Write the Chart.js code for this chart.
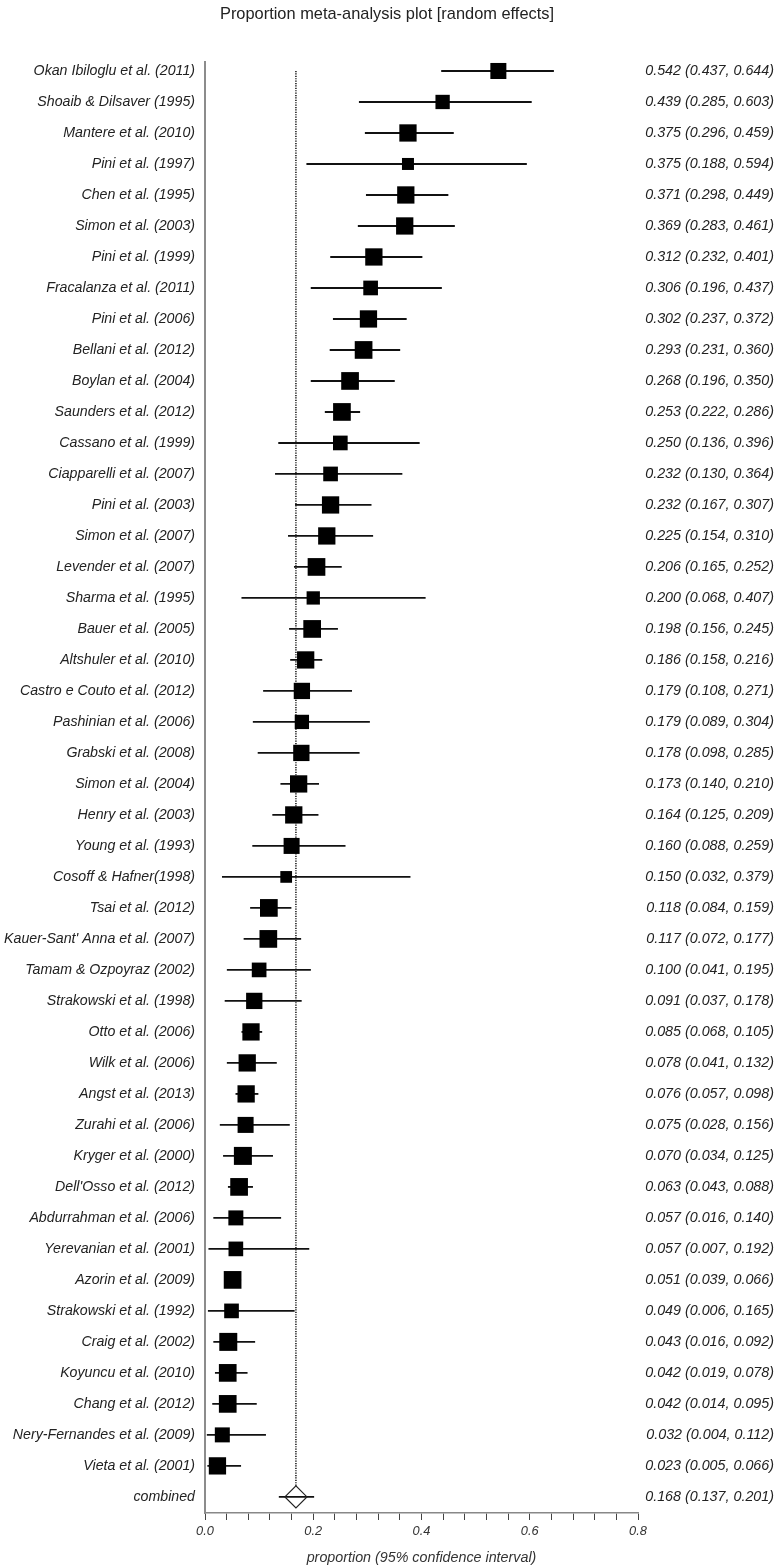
<!DOCTYPE html>
<html>
<head>
    <title>Proportion meta-analysis plot</title>
    <script src="https://cdn.jsdelivr.net/npm/chart.js"></script>
    <style>
        body {
            margin: 0;
            padding: 0;
            background: #fff;
        }
        canvas {
            display: block;
        }
    </style>
</head>
<body>

<canvas id="forestPlot" width="777" height="1567"></canvas>

<script>
// study data (top to bottom)
const studies = [
    'Okan Ibiloglu et al. (2011)', 'Shoaib & Dilsaver (1995)', 'Mantere et al. (2010)', 'Pini et al. (1997)',
    'Chen et al. (1995)', 'Simon et al. (2003)', 'Pini et al. (1999)', 'Fracalanza et al. (2011)',
    'Pini et al. (2006)', 'Bellani et al. (2012)', 'Boylan et al. (2004)', 'Saunders et al. (2012)',
    'Cassano et al. (1999)', 'Ciapparelli et al. (2007)', 'Pini et al. (2003)', 'Simon et al. (2007)',
    'Levender et al. (2007)', 'Sharma et al. (1995)', 'Bauer et al. (2005)', 'Altshuler et al. (2010)',
    'Castro e Couto et al. (2012)', 'Pashinian et al. (2006)', 'Grabski et al. (2008)', 'Simon et al. (2004)',
    'Henry et al. (2003)', 'Young et al. (1993)', 'Cosoff & Hafner(1998)', 'Tsai et al. (2012)',
    "Kauer-Sant' Anna et al. (2007)", 'Tamam & Ozpoyraz (2002)', 'Strakowski et al. (1998)', 'Otto et al. (2006)',
    'Wilk et al. (2006)', 'Angst et al. (2013)', 'Zurahi et al. (2006)', 'Kryger et al. (2000)',
    "Dell'Osso et al. (2012)", 'Abdurrahman et al. (2006)', 'Yerevanian et al. (2001)', 'Azorin et al. (2009)',
    'Strakowski et al. (1992)', 'Craig et al. (2002)', 'Koyuncu et al. (2010)', 'Chang et al. (2012)',
    'Nery-Fernandes et al. (2009)', 'Vieta et al. (2001)'
];
const estimates = [
    0.542, 0.439, 0.375, 0.375, 0.371, 0.369, 0.312, 0.306, 0.302, 0.293, 0.268, 0.253,
    0.250, 0.232, 0.232, 0.225, 0.206, 0.200, 0.198, 0.186, 0.179, 0.179, 0.178, 0.173,
    0.164, 0.160, 0.150, 0.118, 0.117, 0.100, 0.091, 0.085, 0.078, 0.076, 0.075, 0.070,
    0.063, 0.057, 0.057, 0.051, 0.049, 0.043, 0.042, 0.042, 0.032, 0.023
];
const lowerCI = [
    0.437, 0.285, 0.296, 0.188, 0.298, 0.283, 0.232, 0.196, 0.237, 0.231, 0.196, 0.222,
    0.136, 0.130, 0.167, 0.154, 0.165, 0.068, 0.156, 0.158, 0.108, 0.089, 0.098, 0.140,
    0.125, 0.088, 0.032, 0.084, 0.072, 0.041, 0.037, 0.068, 0.041, 0.057, 0.028, 0.034,
    0.043, 0.016, 0.007, 0.039, 0.006, 0.016, 0.019, 0.014, 0.004, 0.005
];
const upperCI = [
    0.644, 0.603, 0.459, 0.594, 0.449, 0.461, 0.401, 0.437, 0.372, 0.360, 0.350, 0.286,
    0.396, 0.364, 0.307, 0.310, 0.252, 0.407, 0.245, 0.216, 0.271, 0.304, 0.285, 0.210,
    0.209, 0.259, 0.379, 0.159, 0.177, 0.195, 0.178, 0.105, 0.132, 0.098, 0.156, 0.125,
    0.088, 0.140, 0.192, 0.066, 0.165, 0.092, 0.078, 0.095, 0.112, 0.066
];
// approximate random-effects weights (%), estimated from the square sizes
const weights = [
    1.94, 1.55, 2.26, 1.09, 2.26, 2.26, 2.26, 1.63, 2.26, 2.37, 2.37, 2.37,
    1.63, 1.63, 2.26, 2.26, 2.37, 1.34, 2.37, 2.26, 2.01, 1.55, 2.01, 2.26,
    2.26, 1.94, 1.04, 2.37, 2.37, 1.63, 2.01, 2.26, 2.26, 2.26, 1.94, 2.45,
    2.37, 1.70, 1.63, 2.37, 1.63, 2.45, 2.37, 2.37, 1.70, 2.26
];

// pooled estimate
const combinedLabel = 'combined';
const pooledEstimate = 0.168;
const pooledLower = 0.137;
const pooledUpper = 0.201;

// x axis
const xTickValues = [0, 0.04, 0.08, 0.12, 0.16, 0.2, 0.24, 0.28, 0.32, 0.36, 0.4,
    0.44, 0.48, 0.52, 0.56, 0.6, 0.64, 0.68, 0.72, 0.76, 0.8];
const xTickLabels = ['0.0', '0.2', '0.4', '0.6', '0.8'];

const fontFamily = '"Liberation Sans", Arial, sans-serif';
Chart.defaults.font.family = fontFamily;
Chart.defaults.color = '#222';

const combinedRow = studies.length;
const rowLabels = studies.concat([combinedLabel]);
const fmt = v => v.toFixed(3);
const ciLabels = estimates.map((e, i) => `${fmt(e)} (${fmt(lowerCI[i])}, ${fmt(upperCI[i])})`)
    .concat([`${fmt(pooledEstimate)} (${fmt(pooledLower)}, ${fmt(pooledUpper)})`]);

const rowTicks = scale => { scale.ticks = rowLabels.map((_, i) => ({ value: i })); };
const yMin = -0.29, yMax = 46.52;

const ciData = rowLabels.map((_, i) => ({
    y: i,
    x: i < combinedRow ? [lowerCI[i], upperCI[i]] : [pooledLower, pooledUpper]
}));

const ctx = document.getElementById('forestPlot').getContext('2d');
const forestChart = new Chart(ctx, {
    type: 'scatter',
    data: {
        datasets: [
            {
                // confidence intervals as thin floating bars
                type: 'bar',
                indexAxis: 'y',
                data: ciData,
                backgroundColor: '#111',
                borderWidth: 0,
                barThickness: 1.2,
                grouped: false,
                order: 3
            },
            {
                // dotted reference line at the pooled estimate
                type: 'scatter',
                showLine: true,
                data: [{ x: pooledEstimate, y: 0 }, { x: pooledEstimate, y: combinedRow - 0.355 }],
                borderColor: '#000',
                borderWidth: 1.4,
                borderDash: [1.2, 1.2],
                pointRadius: 0,
                order: 4
            },
            {
                // study estimates, square area by weight
                type: 'scatter',
                data: estimates.map((e, i) => ({ x: e, y: i })),
                pointStyle: 'rect',
                pointRadius: weights.map(w => 8.13 * Math.sqrt(w)),
                backgroundColor: '#000',
                borderColor: '#000',
                borderWidth: 0,
                order: 1
            },
            {
                // pooled diamond
                type: 'scatter',
                data: [{ x: pooledEstimate, y: combinedRow }],
                pointStyle: 'rectRot',
                pointRadius: 11,
                backgroundColor: 'rgba(255,255,255,0)',
                borderColor: '#222',
                borderWidth: 1.2,
                order: 0
            }
        ]
    },
    options: {
        responsive: false,
        animation: false,
        events: [],
        layout: {
            padding: { left: 0, right: 3, top: 0, bottom: 0 }
        },
        plugins: {
            legend: { display: false },
            tooltip: { enabled: false },
            title: {
                display: true,
                text: 'Proportion meta-analysis plot [random effects]',
                font: { size: 16.4, weight: 'normal' },
                color: '#222',
                padding: { top: 5, bottom: 37.3 }
            }
        },
        scales: {
            x: {
                type: 'linear',
                position: 'bottom',
                min: 0,
                max: 0.8,
                offset: false,
                afterBuildTicks: scale => { scale.ticks = xTickValues.map(v => ({ value: v })); },
                afterFit: scale => { scale.height = 54; },
                ticks: {
                    autoSkip: false,
                    maxRotation: 0,
                    padding: 4,
                    color: '#333',
                    font: { size: 12.8, style: 'italic' },
                    callback: v => {
                        const lab = xTickLabels.find(l => Math.abs(parseFloat(l) - v) < 1e-6);
                        return lab === undefined ? '' : lab;
                    }
                },
                grid: {
                    offset: false,
                    drawOnChartArea: false,
                    drawTicks: true,
                    tickLength: 7,
                    color: '#444',
                    lineWidth: 1
                },
                border: { display: true, color: '#888', width: 1.5 },
                title: {
                    display: true,
                    text: 'proportion (95% confidence interval)',
                    color: '#333',
                    font: { size: 14.3, style: 'italic' },
                    padding: { top: 0, bottom: 0 }
                }
            },
            y: {
                type: 'linear',
                position: 'left',
                reverse: true,
                offset: false,
                min: yMin,
                max: yMax,
                afterBuildTicks: rowTicks,
                afterFit: scale => { scale.width = 205; },
                ticks: {
                    autoSkip: false,
                    padding: 10,
                    color: '#222',
                    font: { size: 14.2, style: 'italic' },
                    callback: v => rowLabels[v]
                },
                grid: { offset: false, drawOnChartArea: false, drawTicks: false },
                border: { display: true, color: '#8c8c8c', width: 2 }
            },
            y2: {
                type: 'linear',
                display: true,
                position: 'right',
                reverse: true,
                offset: false,
                min: yMin,
                max: yMax,
                afterBuildTicks: rowTicks,
                afterFit: scale => { scale.width = 136; },
                ticks: {
                    autoSkip: false,
                    padding: 0,
                    crossAlign: 'far',
                    color: '#222',
                    font: { size: 14.3, style: 'italic' },
                    callback: v => ciLabels[v]
                },
                grid: { display: false, drawOnChartArea: false, drawTicks: false },
                border: { display: false }
            }
        }
    }
});
</script>

</body>
</html>
